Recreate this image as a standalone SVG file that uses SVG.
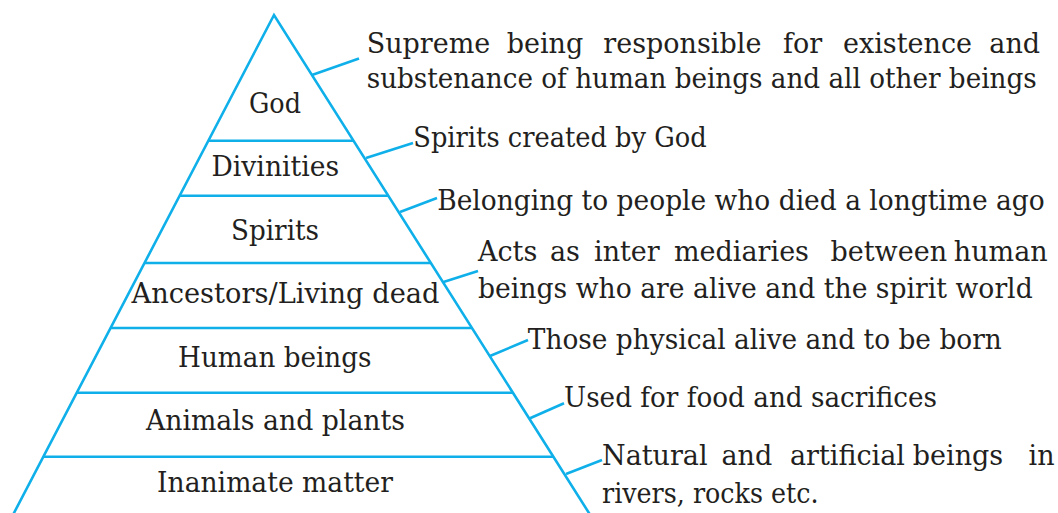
<svg xmlns="http://www.w3.org/2000/svg" width="1058" height="513" viewBox="0 0 1058 513">
<style>
.ln{stroke:#0fb0ea;stroke-width:2.6;fill:none;stroke-linecap:butt;stroke-linejoin:miter}
.t{font-family:"DejaVu Serif","Liberation Serif",serif;font-size:27px;fill:#231f20}
.c{text-anchor:middle}
</style>
<rect width="1058" height="513" fill="#ffffff"/>
<g id="pyramid">
<polyline class="ln" points="10.3,520 274,15 593.4,520"/>
</g>
<g id="tiers">
<line class="ln" x1="208.4" y1="140.7" x2="353.5" y2="140.7"/>
<line class="ln" x1="179.7" y1="195.7" x2="388.3" y2="195.7"/>
<line class="ln" x1="144.5" y1="263" x2="430.9" y2="263"/>
<line class="ln" x1="110.6" y1="328" x2="472" y2="328"/>
<line class="ln" x1="76.8" y1="392.7" x2="512.9" y2="392.7"/>
<line class="ln" x1="43.4" y1="456.7" x2="553.4" y2="456.7"/>
</g>
<g id="node-god"><text class="t c" x="275" y="113.3" textLength="52" lengthAdjust="spacingAndGlyphs">God</text></g>
<g id="node-divinities"><text class="t c" x="275.3" y="176" textLength="127.5" lengthAdjust="spacingAndGlyphs">Divinities</text></g>
<g id="node-spirits"><text class="t c" x="275" y="239.5" textLength="88" lengthAdjust="spacingAndGlyphs">Spirits</text></g>
<g id="node-ancestors"><text class="t c" x="285.5" y="303.3" textLength="308" lengthAdjust="spacingAndGlyphs">Ancestors/Living dead</text></g>
<g id="node-human"><text class="t c" x="274.8" y="366.7" textLength="193.5" lengthAdjust="spacingAndGlyphs">Human beings</text></g>
<g id="node-animals"><text class="t c" x="275.5" y="430" textLength="259" lengthAdjust="spacingAndGlyphs">Animals and plants</text></g>
<g id="node-inanimate"><text class="t c" x="275" y="491.7" textLength="236" lengthAdjust="spacingAndGlyphs">Inanimate matter</text></g>
<g id="connectors">
<line class="ln" x1="312" y1="75" x2="359" y2="58.5"/>
<line class="ln" x1="366" y1="158" x2="413" y2="143"/>
<line class="ln" x1="400" y1="212" x2="437" y2="198"/>
<line class="ln" x1="443.5" y1="282" x2="478" y2="271"/>
<line class="ln" x1="490" y1="356" x2="528" y2="340"/>
<line class="ln" x1="530" y1="418.3" x2="564" y2="403.3"/>
<line class="ln" x1="566" y1="474" x2="602" y2="460"/>
</g>
<g id="label-god">
<text class="t" y="53.3"><tspan x="366.7">Supreme</tspan> <tspan x="506.7">being</tspan> <tspan x="603.3">responsible</tspan> <tspan x="783">for</tspan> <tspan x="843">existence</tspan> <tspan x="989.3">and</tspan></text>
<text class="t" x="366.7" y="88.3" textLength="670" lengthAdjust="spacingAndGlyphs">substenance of human beings and all other beings</text>
</g>
<g id="label-divinities"><text class="t" x="413.3" y="146.7" textLength="293.4" lengthAdjust="spacingAndGlyphs">Spirits created by God</text></g>
<g id="label-spirits"><text class="t" x="437.2" y="210" textLength="607.5" lengthAdjust="spacingAndGlyphs">Belonging to people who died a longtime ago</text></g>
<g id="label-ancestors">
<text class="t" y="260.7"><tspan x="478">Acts</tspan> <tspan x="550">as</tspan> <tspan x="594">inter</tspan> <tspan x="674">mediaries</tspan> <tspan x="830.5">between</tspan> <tspan x="953.8">human</tspan></text>
<text class="t" x="478" y="298.3" textLength="554.7" lengthAdjust="spacingAndGlyphs">beings who are alive and the spirit world</text>
</g>
<g id="label-human"><text class="t" x="527.8" y="349.3" textLength="474" lengthAdjust="spacingAndGlyphs">Those physical alive and to be born</text></g>
<g id="label-animals"><text class="t" x="564" y="407.3" textLength="373" lengthAdjust="spacingAndGlyphs">Used for food and sacrifices</text></g>
<g id="label-inanimate">
<text class="t" y="465"><tspan x="602">Natural</tspan> <tspan x="721.4">and</tspan> <tspan x="790">artificial</tspan> <tspan x="912.8">beings</tspan> <tspan x="1028.5">in</tspan></text>
<text class="t" x="602" y="502.7" textLength="216.5" lengthAdjust="spacingAndGlyphs">rivers, rocks etc.</text>
</g>
</svg>
